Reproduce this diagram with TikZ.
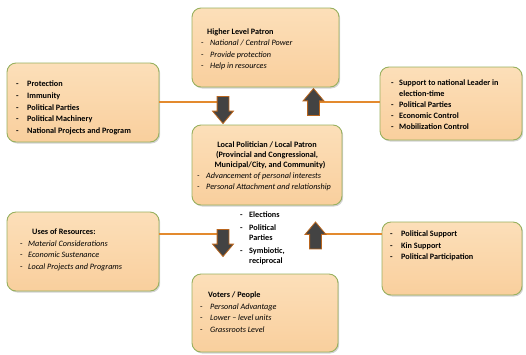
\documentclass[tikz,border=0pt]{standalone}
\usepackage{fontspec}
\setmainfont{Carlito}
\usetikzlibrary{shapes.arrows,shadows}
\definecolor{peachtop}{HTML}{FCDFB9}
\definecolor{peachbot}{HTML}{F9CF9D}
\definecolor{boxline}{HTML}{98B05E}
\definecolor{arrowfill}{HTML}{434343}
\definecolor{arrowline}{HTML}{B8651E}
\definecolor{linkc}{HTML}{E38A2E}
\newcommand{\dsh}[1]{\makebox[#1][l]{-}}
\begin{document}
\begin{tikzpicture}[x=1pt,y=-1pt,
 box/.style={draw=boxline, line width=0.9pt, rounded corners=9pt, top color=peachtop, bottom color=peachbot,
   drop shadow={opacity=0.35, shadow xshift=1.2pt, shadow yshift=-1.5pt}, inner sep=0},
 txt/.style={anchor=north west, align=left, inner sep=0, font=\fontsize{8.2}{11.5}\selectfont},
 blk/.style={single arrow, draw=arrowline, fill=arrowfill, line width=0.8pt, minimum height=27pt,
   minimum width=20pt, single arrow head extend=4.5pt, inner xsep=0pt, inner ysep=5.5pt, single arrow tip angle=80},
 link/.style={draw=linkc, line width=1.3pt}]
\useasboundingbox (0,0) rectangle (526,354);

% boxes
\node[box, minimum width=147pt, minimum height=79pt] (top) at (265.5,47.5) {};
\node[box, minimum width=152pt, minimum height=79pt] (lefttop) at (83,102.5) {};
\node[box, minimum width=142pt, minimum height=73pt] (righttop) at (451,103.5) {};
\node[box, minimum width=150pt, minimum height=80pt] (center) at (267,165) {};
\node[box, minimum width=152pt, minimum height=79pt] (leftbot) at (83,251.5) {};
\node[box, minimum width=140pt, minimum height=73pt] (rightbot) at (452,258.5) {};
\node[box, minimum width=146pt, minimum height=78pt] (bottom) at (265,313) {};

% connectors and block arrows
\coordinate (dA) at (223,106.5);
\coordinate (uA) at (313.5,105.5);
\coordinate (dB) at (223,239.5);
\coordinate (uB) at (315.5,239);
\draw[link] ([yshift=0.5pt]lefttop.east) -- ([yshift=0.5pt]lefttop.east -| dA);
\draw[link] ([yshift=1.5pt]righttop.west) -- ([yshift=1.5pt]righttop.west -| uA);
\draw[link] ([yshift=17.5pt]leftbot.east) -- ([yshift=17.5pt]leftbot.east -| dB);
\draw[link] ([yshift=24.5pt]rightbot.west) -- ([yshift=24.5pt]rightbot.west -| uB);
\node[blk, rotate=-90] (downtop) at (dA) {};
\node[blk, rotate=90] (uptop) at (uA) {};
\node[blk, rotate=-90] (downbot) at (dB) {};
\node[blk, rotate=90] (upbot) at (uB) {};

% texts
\node[txt] (toptext) at (201,28.5) {\hspace*{6pt}\textbf{Higher Level Patron}\\
 \dsh{9pt}\textit{National / Central Power}\\
 \dsh{9pt}\textit{Provide protection}\\
 \dsh{9pt}\textit{Help in resources}};

\node[txt, font=\fontsize{8.2}{11.8}\selectfont\bfseries] (lefttoptext) at (16,80.5) {\dsh{11pt}Protection\\
 \dsh{11pt}Immunity\\
 \dsh{11pt}Political Parties\\
 \dsh{11pt}Political Machinery\\
 \dsh{11pt}National Projects and Program};

\node[txt, font=\fontsize{8.2}{11}\selectfont\bfseries] (righttoptext) at (391,79.5) {\dsh{8pt}Support to national Leader in\\
 \hspace*{8pt}election-time\\
 \dsh{8pt}Political Parties\\
 \dsh{8pt}Economic Control\\
 \dsh{8pt}Mobilization Control};

\node[anchor=north, align=center, inner sep=0, font=\fontsize{8.2}{9.7}\selectfont\bfseries] (centerhead) at (267,142) {Local Politician / Local Patron\\
 (Provincial and Congressional,\\
 \hspace*{6pt}Municipal/City, and Community)};
\node[txt, font=\fontsize{8.2}{10.5}\selectfont\itshape] (centertext) at (197,173) {\dsh{9pt}Advancement of personal interests\\
 \dsh{9pt}Personal Attachment and relationship};

\node[txt] (leftbottext) at (20,229) {\hspace*{12pt}\textbf{Uses of Resources:}\\
 \dsh{8pt}\textit{Material Considerations}\\
 \dsh{8pt}\textit{Economic Sustenance}\\
 \dsh{8pt}\textit{Local Projects and Programs}};

\node[txt, font=\fontsize{8.2}{11.5}\selectfont\bfseries] (rightbottext) at (390,231) {\dsh{11pt}Political Support\\
 \dsh{11pt}Kin Support\\
 \dsh{11pt}Political Participation};

\node[txt] (bottomtext) at (200,292) {\hspace*{8pt}\textbf{Voters / People}\\
 \dsh{10pt}\textit{Personal Advantage}\\
 \dsh{10pt}\textit{Lower -- level units}\\
 \dsh{10pt}\textit{Grassroots Level}};

\node[txt, font=\fontsize{8.2}{10.5}\selectfont\bfseries] (midtext) at (240,212) {\dsh{9pt}Elections\\[2pt]
 \dsh{9pt}Political\\
 \hspace*{9pt}Parties\\[2pt]
 \dsh{9pt}Symbiotic,\\
 \hspace*{9pt}reciprocal};
\end{tikzpicture}
\end{document}
